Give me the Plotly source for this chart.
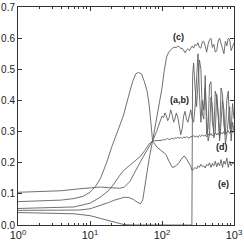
import math
import plotly.graph_objects as go

# shared log grid for the noisy region (x = 100 .. 1000)
grid_x = [100, 105, 110, 115, 120, 126, 132, 138, 145, 151, 158, 166, 174, 182, 191,
          200, 209, 219, 229, 240, 251, 263, 275, 288, 302, 316, 331, 347, 363, 380,
          398, 417, 437, 457, 479, 501, 525, 550, 575, 603, 631, 661, 692, 724, 759,
          794, 832, 871, 912, 955, 1000]

# curve (c)
c_x = [1, 2, 4, 7, 10, 14, 18, 22, 26, 30, 35, 40, 45, 50, 54, 60, 66, 74, 82, 90, 100, 108, 116, 124]
c_y = [0.047, 0.047, 0.047, 0.048, 0.052, 0.062, 0.072, 0.080, 0.086, 0.089, 0.088, 0.082,
       0.074, 0.068, 0.080, 0.150, 0.210, 0.270, 0.330, 0.380, 0.440, 0.500, 0.540, 0.555]
c_noise = [0.563, 0.567, 0.570, 0.571, 0.569, 0.575, 0.572, 0.566, 0.568, 0.558, 0.553, 0.562,
           0.566, 0.560, 0.570, 0.575, 0.568, 0.580, 0.576, 0.585, 0.570, 0.568, 0.588, 0.590,
           0.575, 0.555, 0.580, 0.595, 0.600, 0.570, 0.580, 0.555, 0.560, 0.590, 0.600, 0.585,
           0.565, 0.550, 0.590, 0.575, 0.600, 0.595, 0.560, 0.570, 0.585]  # grid index 6..50

# curve (a)
a_x = [1, 2, 4, 7, 10, 14, 18, 22, 26, 30, 36, 42, 48, 55, 62, 70, 76, 84, 92]
a_y = [0.105, 0.107, 0.110, 0.116, 0.120, 0.122, 0.120, 0.118, 0.118, 0.122, 0.140, 0.170,
       0.196, 0.220, 0.240, 0.260, 0.275, 0.300, 0.330]
a_noise = [0.350, 0.345, 0.360, 0.350, 0.335, 0.345, 0.370, 0.355, 0.330, 0.340, 0.360, 0.345,
           0.320, 0.290, 0.310, 0.350, 0.365, 0.340, 0.330, 0.355, 0.370, 0.340, 0.330, 0.380,
           0.470, 0.550, 0.420, 0.330, 0.400, 0.370, 0.440, 0.350, 0.270, 0.290, 0.410, 0.380,
           0.280, 0.300, 0.420, 0.360, 0.270, 0.330, 0.400, 0.370, 0.260, 0.290, 0.350, 0.380,
           0.270, 0.330, 0.300]  # grid index 0..50

# curve (b)
b_x = [1, 3, 6, 10, 15, 20, 25, 30, 40, 100, 200, 260, 266]
b_y = [0.040, 0.039, 0.036, 0.030, 0.020, 0.012, 0.005, 0.001, 0.0, 0.0, 0.0, 0.0, 0.480]
b_noise = [0.520, 0.440, 0.380, 0.450, 0.530, 0.500, 0.360, 0.340, 0.480, 0.290, 0.310, 0.450,
           0.460, 0.330, 0.300, 0.430, 0.410, 0.350, 0.280, 0.440, 0.420, 0.320, 0.290, 0.400,
           0.430, 0.310, 0.300, 0.390, 0.340]  # grid index 22..50

# curve (d)
d_x = [1, 3, 6, 10, 14, 18, 22, 26, 29, 35, 42, 50, 58, 66, 74, 85]
d_y = [0.053, 0.055, 0.058, 0.070, 0.090, 0.110, 0.135, 0.160, 0.174, 0.190, 0.205, 0.220,
       0.240, 0.260, 0.270, 0.271]
d_noise = [0.272, 0.275, 0.273, 0.276, 0.278, 0.274, 0.277, 0.279, 0.276, 0.280, 0.278, 0.282,
           0.279, 0.281, 0.278, 0.283, 0.280, 0.284, 0.281, 0.279, 0.285, 0.282, 0.287, 0.283,
           0.286, 0.281, 0.288, 0.284, 0.290, 0.285, 0.289, 0.283, 0.292, 0.287, 0.294, 0.286,
           0.291, 0.297, 0.289, 0.295, 0.288, 0.298, 0.292, 0.300, 0.291, 0.297, 0.303, 0.294,
           0.300, 0.296, 0.302]  # grid index 0..50

# curve (e) (hump)
e_x = [1, 2, 4, 6, 8, 10, 12, 14, 17, 20, 24, 29, 34, 39, 43, 47, 52, 57, 62, 66, 70, 74,
       85, 100, 113, 125, 140, 155, 173, 190, 203, 220, 238, 251]
e_y = [0.075, 0.077, 0.080, 0.085, 0.092, 0.105, 0.125, 0.150, 0.200, 0.250, 0.300, 0.350,
       0.410, 0.460, 0.485, 0.490, 0.485, 0.460, 0.430, 0.390, 0.330, 0.270, 0.250, 0.235,
       0.227, 0.205, 0.184, 0.190, 0.200, 0.215, 0.222, 0.212, 0.200, 0.188]
e_noise = [0.175, 0.180, 0.185, 0.180, 0.190, 0.185, 0.195, 0.188, 0.190, 0.183, 0.195, 0.190,
           0.200, 0.185, 0.198, 0.190, 0.205, 0.187, 0.200, 0.190, 0.210, 0.185, 0.205, 0.195,
           0.215, 0.185, 0.205, 0.190, 0.200, 0.195]  # grid index 21..50

y_ticks = [0.0, 0.1, 0.2, 0.3, 0.4, 0.5, 0.6, 0.7]
x_ticks = [1, 10, 100, 1000]
x_tick_text = ["10<sup>0</sup>", "10<sup>1</sup>", "10<sup>2</sup>", "10<sup>3</sup>"]

labels = ["(c)", "(a,b)", "(d)", "(e)"]
label_x = [168, 177, 684, 706]
label_y = [0.603, 0.400, 0.251, 0.132]

series = [
    (c_x + grid_x[6:], c_y + c_noise),
    (a_x + grid_x, a_y + a_noise),
    (b_x + grid_x[22:], b_y + b_noise),
    (d_x + grid_x, d_y + d_noise),
    (e_x + grid_x[21:], e_y + e_noise),
]

fig = go.Figure()
for xs, ys in series:
    fig.add_trace(go.Scatter(x=xs, y=ys, mode="lines",
                             line=dict(color="#606060", width=0.9), showlegend=False))

for t, lx, ly in zip(labels, label_x, label_y):
    fig.add_annotation(x=math.log10(lx), y=ly, xref="x", yref="y", text="<b>" + t + "</b>",
                       showarrow=False, font=dict(family="Liberation Sans, Arial", size=9, color="#222"))

fig.update_xaxes(type="log", range=[0, 3], tickvals=x_ticks, ticktext=x_tick_text,
                 ticks="inside", ticklen=4, tickcolor="#333", mirror="ticks", automargin=False,
                 showline=True, linecolor="#333", linewidth=1, showgrid=False, zeroline=False,
                 tickfont=dict(family="Liberation Sans, Arial", size=11, color="#222"),
                 minor=dict(ticks="inside", ticklen=2, tickcolor="#333", dtick="D1", showgrid=False))
fig.update_yaxes(range=[0, 0.7], tickvals=y_ticks, tickformat=".1f",
                 ticks="inside", ticklen=4, tickcolor="#333", mirror="ticks", automargin=False,
                 showline=True, linecolor="#333", linewidth=1, showgrid=False, zeroline=False,
                 tickfont=dict(family="Liberation Sans, Arial", size=10, color="#222"),
                 ticklabelstandoff=0)
fig.update_layout(width=244, height=242, margin=dict(l=18, r=10, t=7, b=17),
                  plot_bgcolor="white", paper_bgcolor="white")
fig.write_html("out.html", config={"displayModeBar": False},
               post_script="document.body.style.margin='0';document.body.style.padding='0';")
